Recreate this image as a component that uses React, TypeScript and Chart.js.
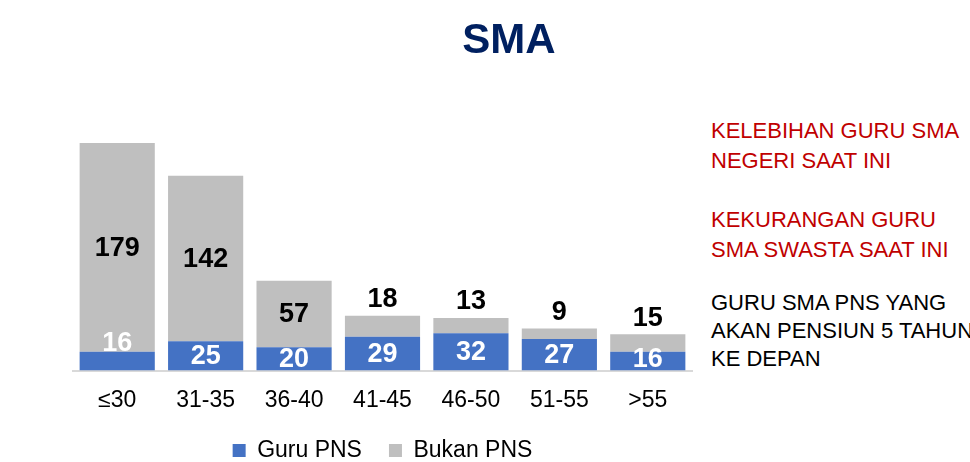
import React, { useEffect, useRef } from "react";
import { Chart, registerables } from "chart.js";

Chart.register(...registerables);

const categories = ["≤30", "31-35", "36-40", "41-45", "46-50", "51-55", ">55"];
const guruPNS = [16, 25, 20, 29, 32, 27, 16];
const bukanPNS = [179, 142, 57, 18, 13, 9, 15];
const seriesNames = ["Guru PNS", "Bukan PNS"];
const titleText = "SMA";
const noteRed1 = ["KELEBIHAN GURU SMA", "NEGERI SAAT INI"];
const noteRed2 = ["KEKURANGAN GURU", "SMA SWASTA SAAT INI"];
const noteBlack = ["GURU SMA PNS YANG", "AKAN PENSIUN 5 TAHUN", "KE DEPAN"];

const FONT = "'Liberation Sans', Arial, Helvetica, sans-serif";

const barLabelPlugin = {
  id: "barLabels",
  afterDatasetsDraw(chart: any) {
    const ctx = chart.ctx;
    ctx.save();
    ctx.font = `bold 27px ${FONT}`;
    ctx.textAlign = "center";
    ctx.textBaseline = "middle";
    chart.data.datasets.forEach((ds: any, di: number) => {
      const meta = chart.getDatasetMeta(di);
      meta.data.forEach((el: any, i: number) => {
        const v = ds.data[i];
        const { x, y, base } = el.getProps(["x", "y", "base"], true);
        const h = base - y;
        let ty: number;
        if (di === 0) {
          ctx.fillStyle = "#FFFFFF";
          ty = Math.min((y + base) / 2, base - 12) + (i === 0 ? -16 : 0);
        } else {
          ctx.fillStyle = "#000000";
          ty = h >= 40 ? (y + base) / 2 : y - 17;
        }
        ctx.fillText(String(v), x, ty + 1);
      });
    });
    ctx.restore();
  },
};

function BarChart() {
  const ref = useRef<HTMLCanvasElement | null>(null);
  useEffect(() => {
    if (!ref.current) return;
    const chart = new Chart(ref.current, {
      type: "bar",
      data: {
        labels: categories,
        datasets: [
          {
            label: seriesNames[0],
            data: guruPNS,
            backgroundColor: "#4472C4",
            barPercentage: 0.85,
            categoryPercentage: 1,
          },
          {
            label: seriesNames[1],
            data: bukanPNS,
            backgroundColor: "#BFBFBF",
            barPercentage: 0.85,
            categoryPercentage: 1,
          },
        ],
      },
      options: {
        responsive: false,
        maintainAspectRatio: false,
        animation: false,
        devicePixelRatio: 1,
        layout: { padding: { top: 143, left: 73, right: 8, bottom: 0 } },
        scales: {
          x: {
            stacked: true,
            grid: { display: false, drawTicks: false },
            border: { display: true, color: "#D9D9D9", width: 2 },
            ticks: {
              color: "#000000",
              font: { family: FONT, size: 23, lineHeight: 1 },
              padding: 18.5,
              maxRotation: 0,
            },
            afterFit: (scale: any) => {
              scale.height = 41.5;
            },
          },
          y: { stacked: true, display: false, min: 0, max: 195 },
        },
        plugins: {
          legend: {
            position: "bottom",
            labels: {
              boxWidth: 13,
              boxHeight: 13,
              padding: 27,
              color: "#000000",
              font: { family: FONT, size: 23, lineHeight: 1 },
            },
          },
          tooltip: { enabled: false },
          title: { display: false },
        },
      },
      plugins: [barLabelPlugin],
    } as any);
    return () => chart.destroy();
  }, []);
  return (
    <canvas
      ref={ref}
      width={700}
      height={472}
      style={{ position: "absolute", left: 0, top: 0, width: 700, height: 472 }}
    />
  );
}

export default function App() {
  const lineStyle = (top: number, color: string, lh: number) => ({
    position: "absolute" as const,
    left: 711,
    top,
    color,
    fontFamily: FONT,
    fontSize: 22,
    lineHeight: `${lh}px`,
    whiteSpace: "nowrap" as const,
  });
  return (
    <div
      style={{
        position: "fixed",
        left: 0,
        top: 0,
        width: 970,
        height: 462,
        overflow: "hidden",
        background: "#FFFFFF",
      }}
    >
      <BarChart />
      <div
        style={{
          position: "absolute",
          left: 409,
          top: 17.5,
          width: 200,
          textAlign: "center",
          fontFamily: FONT,
          fontWeight: "bold",
          fontSize: 42,
          lineHeight: "42px",
          color: "#002060",
        }}
      >
        {titleText}
      </div>
      <div style={lineStyle(116, "#C00000", 30)}>
        {noteRed1.map((t, i) => (
          <div key={i}>{t}</div>
        ))}
      </div>
      <div style={lineStyle(205, "#C00000", 30)}>
        {noteRed2.map((t, i) => (
          <div key={i}>{t}</div>
        ))}
      </div>
      <div style={lineStyle(289, "#000000", 28)}>
        {noteBlack.map((t, i) => (
          <div key={i}>{t}</div>
        ))}
      </div>
    </div>
  );
}
